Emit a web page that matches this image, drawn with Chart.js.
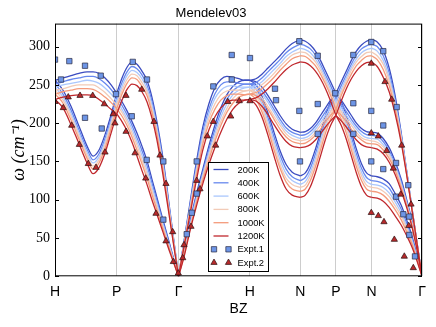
<!DOCTYPE html>
<html>
<head>
<meta charset="utf-8">
<script src="https://cdn.jsdelivr.net/npm/chart.js@4.4.1/dist/chart.umd.min.js"></script>
<style>
html, body { margin: 0; padding: 0; background: #fff; }
canvas { display: block; }
</style>
</head>
<body>
<canvas id="bz" width="436" height="327"></canvas>
<script>
const kLabels = ['H', 'P', 'Γ', 'H', 'N', 'P', 'N', 'Γ'];
const kPos = [0, 0.866, 1.732, 2.732, 3.439, 3.939, 4.439, 5.146];
const temps = ['200K', '400K', '600K', '800K', '1000K', '1200K'];
const tempColors = ['#3b4cc0', '#6788ee', '#aac7fd', '#f2cbb7', '#f49a7b', '#c0282d'];
const yTicks = [0, 50, 100, 150, 200, 250, 300];

// fractions along each path segment where the curves were read
const tHP = [0, 0.13, 0.259, 0.389, 0.519, 0.616, 0.713, 0.81, 0.908, 1];
const tPG = [0, 0.085, 0.166, 0.247, 0.327, 0.408, 0.489, 0.569, 0.65, 0.747, 0.844, 0.924, 1];
const tGH = [0, 0.074, 0.158, 0.252, 0.341, 0.425, 0.509, 0.593, 0.677, 0.761, 0.845, 0.929, 1];
const tHN = [0, 0.12, 0.24, 0.36, 0.48, 0.6, 0.72, 0.84, 1];
const tNP = [0, 0.142, 0.283, 0.425, 0.567, 0.708, 0.85, 1];
const tNG = [0, 0.112, 0.231, 0.349, 0.467, 0.586, 0.704, 0.803, 0.901, 1];

// one row per temperature (200K ... 1200K)
const hpUpper = [
    [256, 259, 262, 265, 267, 267, 265, 259, 250, 239],
    [251, 254, 257, 259, 261, 261, 258, 252, 244, 234],
    [247, 250, 252, 254, 256, 255, 252, 246, 238, 229],
    [243, 245, 248, 250, 250, 250, 246, 240, 232, 224],
    [238, 241, 243, 245, 245, 244, 240, 234, 227, 219],
    [231, 234, 236, 237, 237, 236, 231, 225, 218, 212]
];
const hpLower = [
    [256, 243, 222, 196, 170, 157, 165, 185, 211, 239],
    [251, 238, 217, 191, 166, 152, 160, 180, 206, 234],
    [247, 234, 213, 187, 162, 148, 156, 176, 202, 229],
    [243, 230, 209, 183, 158, 144, 152, 172, 198, 224],
    [238, 226, 204, 179, 154, 140, 148, 167, 193, 219],
    [231, 220, 198, 173, 148, 134, 142, 161, 187, 212]
];
const pgUpper = [
    [239, 259, 273, 280, 277, 268, 256, 234, 202, 155, 96, 47, 0],
    [234, 253, 267, 274, 271, 263, 250, 229, 197, 151, 93, 45, 0],
    [229, 248, 262, 269, 266, 258, 245, 224, 193, 147, 91, 44, 0],
    [224, 243, 257, 264, 262, 253, 241, 219, 189, 143, 88, 43, 0],
    [219, 238, 252, 259, 257, 248, 236, 214, 185, 139, 86, 41, 0],
    [212, 230, 244, 251, 249, 241, 228, 207, 178, 133, 82, 39, 0]
];
const pgLower = [
    [239, 228, 216, 202, 187, 170, 151, 127, 103, 74, 46, 22, 0],
    [234, 223, 211, 197, 181, 164, 145, 122, 99, 71, 44, 21, 0],
    [229, 218, 206, 192, 176, 158, 139, 117, 95, 68, 42, 20, 0],
    [224, 214, 202, 187, 171, 152, 134, 112, 91, 65, 40, 19, 0],
    [219, 209, 197, 182, 165, 147, 128, 107, 87, 62, 38, 18, 0],
    [212, 202, 190, 175, 157, 138, 120, 100, 81, 58, 35, 17, 0]
];
const ghLong = [
    [0, 44, 94, 150, 195, 225, 246, 257, 261, 260, 258, 256, 256],
    [0, 43, 91, 145, 189, 218, 238, 250, 254, 254, 252, 251, 251],
    [0, 41, 88, 141, 184, 212, 232, 243, 248, 249, 247, 247, 247],
    [0, 40, 86, 137, 178, 206, 225, 237, 242, 243, 243, 242, 243],
    [0, 39, 83, 132, 173, 200, 218, 230, 236, 238, 238, 237, 238],
    [0, 37, 79, 126, 165, 191, 208, 220, 227, 230, 230, 230, 231]
];
const ghTrans = [
    [0, 32, 70, 108, 140, 170, 197, 220, 237, 248, 254, 256, 256],
    [0, 30, 68, 105, 136, 165, 191, 214, 231, 242, 248, 251, 251],
    [0, 29, 65, 102, 133, 161, 186, 208, 225, 237, 243, 246, 247],
    [0, 28, 63, 99, 130, 157, 181, 202, 219, 232, 239, 242, 243],
    [0, 26, 61, 96, 126, 152, 176, 197, 214, 226, 234, 237, 238],
    [0, 24, 58, 92, 121, 146, 168, 188, 205, 218, 226, 230, 231]
];
const hnTop = [
    [256, 258, 264, 272, 280, 288, 297, 304, 309],
    [251, 253, 259, 267, 275, 283, 292, 298, 303],
    [247, 249, 254, 262, 270, 278, 287, 293, 298],
    [243, 244, 250, 257, 265, 274, 282, 289, 293],
    [238, 240, 245, 252, 260, 269, 277, 284, 288],
    [231, 233, 238, 245, 253, 262, 270, 276, 280]
];
const hnMid = [
    [256, 254, 247, 236, 223, 210, 199, 192, 188],
    [251, 249, 242, 231, 218, 205, 194, 188, 184],
    [247, 245, 238, 227, 214, 201, 190, 184, 180],
    [243, 240, 233, 222, 209, 197, 186, 180, 177],
    [238, 236, 229, 218, 205, 192, 182, 176, 173],
    [231, 229, 222, 211, 198, 186, 176, 170, 168]
];
const hnLow = [
    [256, 250, 235, 213, 188, 164, 146, 136, 131],
    [251, 245, 230, 207, 182, 158, 140, 130, 125],
    [247, 240, 225, 202, 176, 152, 134, 125, 120],
    [243, 236, 220, 197, 171, 146, 128, 120, 116],
    [238, 231, 215, 192, 165, 141, 123, 114, 111],
    [231, 224, 208, 184, 157, 132, 114, 106, 103]
];
const npTop = [
    [309, 307, 302, 294, 282, 268, 254, 239],
    [303, 301, 297, 289, 277, 263, 249, 233],
    [298, 296, 292, 284, 273, 259, 244, 228],
    [293, 292, 287, 280, 269, 255, 240, 223],
    [288, 287, 282, 275, 264, 251, 236, 218],
    [280, 279, 275, 268, 258, 245, 229, 210]
];
const npMid = [
    [188, 189, 193, 200, 210, 220, 230, 239],
    [184, 185, 189, 196, 205, 215, 225, 233],
    [180, 181, 185, 192, 201, 210, 220, 228],
    [177, 178, 181, 188, 197, 206, 215, 223],
    [173, 174, 178, 184, 192, 202, 210, 218],
    [168, 169, 172, 178, 186, 195, 203, 210]
];
const npLow = [
    [131, 135, 147, 166, 188, 210, 228, 239],
    [125, 129, 141, 160, 182, 204, 222, 233],
    [120, 124, 136, 154, 176, 198, 216, 228],
    [116, 119, 131, 149, 171, 193, 211, 223],
    [111, 114, 125, 143, 165, 187, 205, 218],
    [103, 106, 117, 135, 157, 179, 197, 210]
];
const ngTop = [
    [309, 306, 295, 272, 236, 188, 134, 88, 44, 0],
    [303, 300, 288, 266, 231, 185, 133, 88, 44, 0],
    [298, 294, 282, 260, 227, 183, 132, 87, 44, 0],
    [293, 288, 277, 255, 223, 181, 131, 87, 43, 0],
    [288, 283, 270, 249, 218, 178, 130, 87, 43, 0],
    [280, 274, 260, 241, 212, 175, 129, 86, 43, 0]
];
const ngMid = [
    [188, 187, 180, 168, 150, 127, 98, 72, 40, 0],
    [184, 183, 176, 164, 147, 124, 96, 70, 39, 0],
    [180, 179, 172, 161, 144, 121, 94, 69, 38, 0],
    [177, 175, 169, 158, 141, 119, 92, 68, 37, 0],
    [173, 172, 165, 154, 138, 116, 91, 66, 36, 0],
    [168, 166, 160, 149, 133, 112, 88, 64, 35, 0]
];
const ngLow = [
    [131, 130, 127, 121, 108, 93, 72, 52, 27, 0],
    [125, 124, 121, 115, 102, 88, 68, 49, 26, 0],
    [120, 119, 116, 109, 97, 83, 64, 47, 24, 0],
    [116, 115, 111, 104, 92, 79, 61, 44, 23, 0],
    [111, 110, 106, 98, 87, 74, 57, 42, 22, 0],
    [103, 102, 98, 90, 79, 67, 52, 38, 20, 0]
];

// experiments
const expt1X = [0, 0.084, 0.201, 0.421, 0.421, 0.641, 0.655, 0.855, 1.076, 1.09, 1.29, 1.286,
    1.519, 1.519, 1.847, 1.917, 1.987, 1.987, 2.22, 2.478, 2.478, 2.734, 3.085, 3.099,
    3.426, 3.426, 3.435, 3.684, 3.684, 3.684, 3.93, 4.183, 4.183, 4.183, 4.435, 4.435,
    4.435, 4.603, 4.603, 4.603, 4.791, 4.782, 4.782, 4.884, 4.954, 4.968, 4.968, 5.048];
const expt1Y = [283, 257, 281, 275, 207, 262, 193, 238, 209, 280, 257, 152,
    150, 74, 55, 83, 108, 150, 248, 257, 289, 285, 245, 230,
    307, 216, 150, 288, 225, 186, 239, 289, 226, 186, 306, 216,
    150, 294, 197, 140, 221, 148, 104, 81, 119, 78, 54, 26];
const expt2X = [0, 0.116, 0.186, 0.234, 0.351, 0.341, 0.467, 0.529, 0.575, 0.691, 0.701, 0.817,
    0.841, 0.996, 0.996, 1.122, 1.216, 1.272, 1.388, 1.416, 1.472, 1.556, 1.556, 1.65,
    1.659, 1.729, 1.791, 1.809, 1.907, 1.987, 2.033, 2.136, 2.22, 2.253, 2.422, 2.464,
    2.584, 2.734, 4.435, 4.627, 4.721, 4.861, 4.435, 4.533, 4.651, 4.744, 4.848, 4.992,
    4.96, 4.435, 4.533, 4.613, 4.758, 4.898, 5.024];
const expt2Y = [228, 220, 234, 197, 236, 172, 147, 236, 142, 225, 162, 212,
    200, 236, 189, 161, 244, 128, 202, 82, 158, 121, 46, 58,
    19, 4, 24, 41, 65, 125, 114, 183, 202, 171, 228, 209,
    229, 229, 278, 254, 231, 171, 187, 183, 164, 141, 107, 94,
    66, 83, 79, 71, 48, 26, 11];

// segment start, segment end, fractions, table
const branches = [
    [0, 1, tHP, hpUpper], [0, 1, tHP, hpLower],
    [1, 2, tPG, pgUpper], [1, 2, tPG, pgLower],
    [2, 3, tGH, ghLong], [2, 3, tGH, ghTrans],
    [3, 4, tHN, hnTop], [3, 4, tHN, hnMid], [3, 4, tHN, hnLow],
    [4, 5, tNP, npTop], [4, 5, tNP, npMid], [4, 5, tNP, npLow],
    // N-P-N is mirror symmetric about P
    [6, 5, tNP, npTop], [6, 5, tNP, npMid], [6, 5, tNP, npLow],
    [6, 7, tNG, ngTop], [6, 7, tNG, ngMid], [6, 7, tNG, ngLow]
];

const datasets = [];
temps.forEach((name, ti) => {
    branches.forEach(([a, b, ts, rows]) => {
        const pts = ts.map((t, j) => ({x: kPos[a] + t * (kPos[b] - kPos[a]), y: rows[ti][j]}));
        if (b < a) pts.reverse();
        datasets.push({
            label: name,
            data: pts,
            showLine: true,
            borderColor: tempColors[ti],
            borderWidth: 1.3,
            pointRadius: 0,
            cubicInterpolationMode: 'monotone',
            order: 10 - ti
        });
    });
});
datasets.push({
    label: 'Expt.1',
    data: expt1X.map((x, i) => ({x: x, y: expt1Y[i]})),
    pointStyle: 'rect',
    pointRadius: 3.8,
    backgroundColor: '#6d95e6',
    borderColor: '#2a2a40',
    borderWidth: 0.7,
    order: 1,
    clip: 0
});
datasets.push({
    label: 'Expt.2',
    data: expt2X.map((x, i) => ({x: x, y: expt2Y[i]})),
    pointStyle: 'triangle',
    pointRadius: 3.6,
    backgroundColor: '#b8292b',
    borderColor: '#2a1010',
    borderWidth: 0.7,
    order: 0,
    clip: 0
});

// box, inward ticks
const frame = {
    id: 'frame',
    afterDatasetsDraw(chart) {
        const {ctx, chartArea: a, scales: {y}} = chart;
        ctx.save();
        ctx.strokeStyle = '#000';
        ctx.lineWidth = 1;
        ctx.strokeRect(a.left + 0.5, a.top + 0.5, a.right - a.left - 1, a.bottom - a.top - 1);
        ctx.beginPath();
        yTicks.forEach(v => {
            const py = Math.round(y.getPixelForValue(v)) + 0.5;
            ctx.moveTo(a.left, py); ctx.lineTo(a.left + 4, py);
            ctx.moveTo(a.right, py); ctx.lineTo(a.right - 4, py);
        });
        ctx.stroke();
        ctx.restore();
    }
};

// legend inside the axes
const boxLegend = {
    id: 'boxLegend',
    afterDraw(chart) {
        const ctx = chart.ctx;
        const bx = 208.5, by = 162.5, bw = 60, bh = 109;
        ctx.save();
        ctx.fillStyle = '#fff';
        ctx.fillRect(bx, by, bw, bh);
        ctx.strokeStyle = '#000';
        ctx.lineWidth = 1;
        ctx.strokeRect(bx, by, bw, bh);
        ctx.font = '9.4px "Liberation Sans", Arial, sans-serif';
        ctx.textBaseline = 'middle';
        const names = temps.concat(['Expt.1', 'Expt.2']);
        names.forEach((name, i) => {
            const ry = 169.5 + i * 13.3;
            if (i < temps.length) {
                ctx.strokeStyle = tempColors[i];
                ctx.lineWidth = 1.3;
                ctx.beginPath();
                ctx.moveTo(213.5, ry); ctx.lineTo(228.5, ry);
                ctx.stroke();
            } else {
                const ds = datasets[datasets.length - 2 + (i - temps.length)];
                [214, 228.5].forEach(px => {
                    ctx.fillStyle = ds.backgroundColor;
                    ctx.strokeStyle = ds.borderColor;
                    ctx.lineWidth = ds.borderWidth;
                    Chart.helpers.drawPoint(ctx, {pointStyle: ds.pointStyle, radius: ds.pointRadius, borderWidth: ds.borderWidth, rotation: 0}, px, ry);
                });
            }
            ctx.fillStyle = '#000';
            ctx.fillText(name, 237.5, ry + 0.5);
        });
        ctx.restore();
    }
};

const sans = '"Liberation Sans", Arial, sans-serif';
const serif = '"Liberation Serif", "Times New Roman", serif';

new Chart(document.getElementById('bz').getContext('2d'), {
    type: 'scatter',
    data: {datasets: datasets},
    options: {
        responsive: false,
        animation: false,
        devicePixelRatio: 1,
        layout: {padding: {left: 0, right: 14, top: 0, bottom: 0}},
        plugins: {
            legend: {display: false},
            tooltip: {enabled: false},
            title: {
                display: true,
                text: 'Mendelev03',
                color: '#000',
                font: {family: sans, size: 13, weight: 'normal'},
                padding: {top: 6, bottom: 2}
            }
        },
        scales: {
            x: {
                type: 'linear',
                min: 0,
                max: 5.146,
                afterBuildTicks: s => { s.ticks = kPos.map(v => ({value: v})); },
                afterFit: s => { s.height = 50.7; },
                ticks: {
                    callback: (v, i) => kLabels[i],
                    autoSkip: false,
                    maxRotation: 0,
                    color: '#000',
                    padding: 7,
                    font: {family: sans, size: 14}
                },
                grid: {color: '#cdcdcd', lineWidth: 1, drawTicks: false},
                border: {display: false},
                title: {
                    display: true,
                    text: 'BZ',
                    color: '#000',
                    font: {family: sans, size: 14},
                    padding: {top: 0, bottom: 9}
                }
            },
            y: {
                min: 0,
                max: 330,
                afterBuildTicks: s => { s.ticks = yTicks.map(v => ({value: v})); },
                afterFit: s => { s.width = 55; },
                ticks: {color: '#000', padding: 5, font: {family: serif, size: 14}},
                grid: {display: false, drawTicks: false},
                border: {display: false},
                title: {
                    display: true,
                    text: 'ω (cm⁻¹)',
                    color: '#000',
                    font: {family: serif, size: 18, style: 'italic'},
                    padding: {top: 8}
                }
            }
        }
    },
    plugins: [frame, boxLegend]
});
</script>
</body>
</html>
